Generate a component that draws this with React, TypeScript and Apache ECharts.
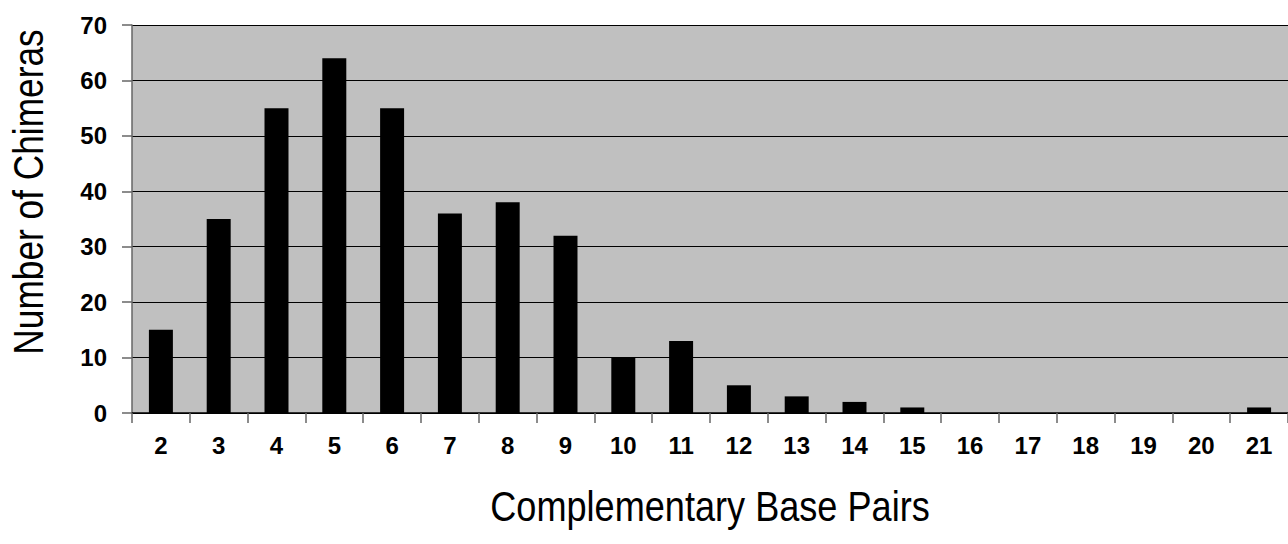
import React, { useEffect, useRef } from "react";
import * as echarts from "echarts";

const categories = ["2","3","4","5","6","7","8","9","10","11","12","13","14","15","16","17","18","19","20","21"];
const chimeras = [15, 35, 55, 64, 55, 36, 38, 32, 10, 13, 5, 3, 2, 1, 0, 0, 0, 0, 0, 1];
const yTicks = { min: 0, max: 70, interval: 10 };
const xTitle = "Complementary Base Pairs";
const yTitle = "Number of Chimeras";

const FONT = "'Liberation Sans', Arial, sans-serif";

export default function App() {
  const ref = useRef<HTMLDivElement>(null);
  useEffect(() => {
    if (!ref.current) return;
    const chart = echarts.init(ref.current, null, { renderer: "svg" });
    chart.setOption({
      animation: false,
      backgroundColor: "#ffffff",
      grid: {
        left: 132,
        right: 0,
        top: 25,
        bottom: 131,
        show: true,
        backgroundColor: "#c0c0c0",
        borderWidth: 0,
      },
      graphic: [
        {
          type: "text",
          x: 28,
          y: 192,
          rotation: Math.PI / 2,
          scaleX: 0.84,
          style: {
            text: yTitle,
            fontFamily: FONT,
            fontSize: 42,
            fill: "#000",
            align: "center",
            verticalAlign: "middle",
          },
        },
        {
          type: "text",
          x: 710,
          y: 507,
          scaleX: 0.86,
          style: {
            text: xTitle,
            fontFamily: FONT,
            fontSize: 42,
            fill: "#000",
            align: "center",
            verticalAlign: "middle",
          },
        },
      ],
      xAxis: {
        type: "category",
        data: categories,
        axisLine: { show: true, lineStyle: { color: "#000", width: 1.5 } },
        axisTick: { show: true, length: 10, alignWithLabel: false, lineStyle: { color: "#666", width: 1.5 } },
        axisLabel: {
          fontFamily: FONT,
          fontWeight: "bold",
          fontSize: 24,
          color: "#000",
          margin: 20,
          interval: 0,
        },
      },
      yAxis: {
        type: "value",
        min: yTicks.min,
        max: yTicks.max,
        interval: yTicks.interval,
        axisLine: { show: true, lineStyle: { color: "#666", width: 1.5 } },
        axisTick: { show: true, length: 10, inside: false, lineStyle: { color: "#666", width: 1.5 } },
        splitLine: { show: true, lineStyle: { color: "#000", width: 1 } },
        axisLabel: {
          fontFamily: FONT,
          fontWeight: "bold",
          fontSize: 24,
          color: "#000",
          margin: 25,
        },
      },
      series: [
        {
          type: "bar",
          data: chimeras,
          barWidth: "41.5%",
          itemStyle: { color: "#000" },
        },
      ],
    });
    return () => chart.dispose();
  }, []);
  return (
    <div
      ref={ref}
      style={{ position: "fixed", left: 0, top: 0, width: 1288, height: 544 }}
    />
  );
}
